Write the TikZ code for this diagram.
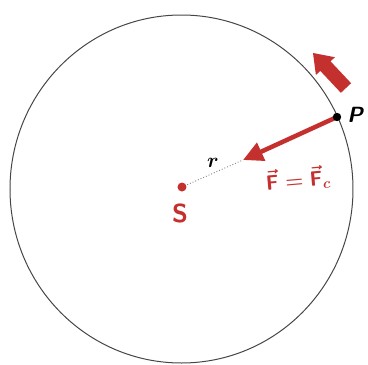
\documentclass[tikz,border=0pt]{standalone}
\usepackage{amsmath}
\usetikzlibrary{arrows.meta}
\definecolor{fred}{RGB}{196,48,46}
\definecolor{ringgray}{RGB}{70,70,70}
\tikzset{
  ring/.style={draw=ringgray,line width=1pt},
  force/.style={draw=fred,line width=4.5pt,-{Triangle[length=20pt,width=19pt]}},
  radius line/.style={draw=gray,dotted,line width=0.9pt},
  redlabel/.style={text=fred,font=\sffamily\bfseries},
}
\begin{document}
\begin{tikzpicture}[x=1pt,y=-1pt]
\useasboundingbox (0,0) rectangle (368,365);
% orbit
\draw[ring] (181.5,189) ellipse [x radius=171.5, y radius=174];
% points
\coordinate (P) at (337,117);
\coordinate (S) at (182,187);
\coordinate (T) at (243,160);
% radius (dotted)
\draw[radius line] (S) -- (T);
% force arrow
\draw[force] (P) -- (T);
% velocity block arrow
\fill[fred] (340.9,92.8) -- (351.1,83.2) -- (330.5,61.3) -- (334.9,57.2) -- (313,53) -- (315.9,75.0) -- (320.3,70.9) -- cycle;
% point P
\fill[black] (P) circle (4.2);
\node[inner sep=0pt,font=\sffamily\bfseries\itshape\fontsize{22}{24}\selectfont] (Plabel) at (355,115) {P};
% sun S
\fill[fred] (S) circle (4.5);
\node[inner sep=0pt,redlabel,font=\sffamily\bfseries\fontsize{26}{28}\selectfont] (Slabel) at (180,213) {S};
% r label
\node[inner sep=0pt,font=\fontsize{22}{24}\selectfont] (rlabel) at (213,163) {$\boldsymbol{r}$};
% F label
\node[inner sep=0pt,text=fred,font=\fontsize{21}{23}\selectfont,rotate=5] (Flabel) at (298,179) {$\boldsymbol{\vec{\mathsf{F}}=\vec{\mathsf{F}}_{c}}$};
\end{tikzpicture}
\end{document}
